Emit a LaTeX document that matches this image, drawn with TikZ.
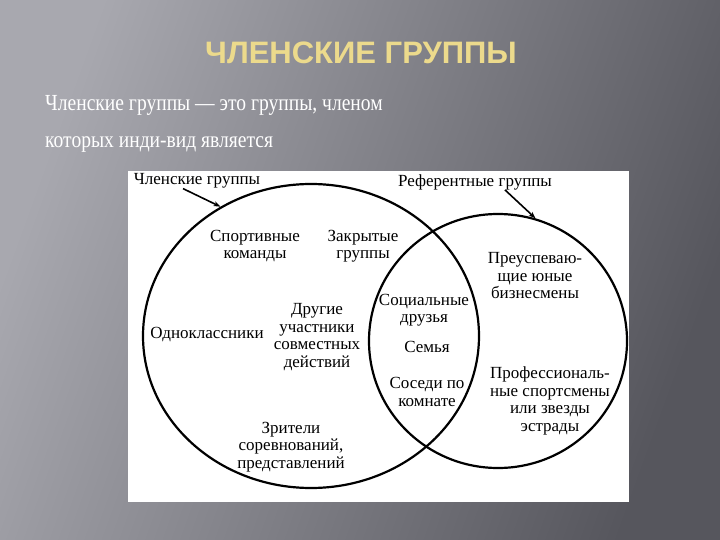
\documentclass[tikz,border=0pt]{standalone}
\usepackage{fontspec}
\setmainfont{Liberation Serif}
\newfontfamily\titlefont{Liberation Sans}
\newfontfamily\introfont[FakeStretch=0.85]{Liberation Serif}
\usetikzlibrary{shapes.geometric,arrows.meta}
\definecolor{bgleft}{RGB}{168,168,175}
\definecolor{bgright}{RGB}{86,86,93}
\definecolor{titlegold}{RGB}{236,218,140}
\tikzset{
  set/.style={draw,ellipse,line width=2.2pt,inner sep=0pt},
  lbl/.style={align=center,font=\fontsize{17}{17.5}\selectfont,inner sep=0pt},
  pointer/.style={line width=1.6pt,-{Stealth[length=7pt,width=5pt]}}
}

\begin{document}
\begin{tikzpicture}[x=1pt,y=-1pt]
  \useasboundingbox (0,0) rectangle (720,540);
  \shade[bottom color=bgleft,top color=bgright,shading angle=-110] (0,0) rectangle (720,540);
  \node[text=titlegold,font=\titlefont\bfseries\fontsize{31}{32}\selectfont] (title) at (361,53) {ЧЛЕНСКИЕ ГРУППЫ};
  \node[text=white,font=\introfont\fontsize{23}{37}\selectfont,align=left,anchor=north west,inner sep=0pt] (intro) at (45,95)
    {Членские группы — это группы, членом\\которых инди-вид является};
  \fill[white] (128,171) rectangle (629,502);
  \node[set,minimum width=336pt,minimum height=304pt] (memb) at (311,336) {};
  \node[set,minimum width=258pt,minimum height=254pt] (ref) at (498,341) {};
  \def \Labels{
    lblmemb/197/181/{Членские группы},
    lblref/475/182/{Референтные группы},
    sport/255/246/{Спортивные\\команды},
    closed/363/246/{Закрытые\\группы},
    other/317/337/{Другие\\участники\\совместных\\действий},
    mates/207/335/{Одноклассники},
    social/424/310/{Социальные\\друзья},
    family/427/347/{Семья},
    roommates/427/392/{Соседи по\\комнате},
    business/535/276/{Преуспеваю-\\щие юные\\бизнесмены},
    stars/550/401/{Профессиональ-\\ные спортсмены\\или звезды\\эстрады},
    audience/291/447/{Зрители\\соревнований,\\представлений}}
  \foreach \id / \x / \y / \txt in \Labels{
    \node[lbl] (\id) at (\x, \y) {\txt};
  }
  \draw[pointer] ([xshift=-14pt]lblmemb.south) -- (memb.125);
  \draw[pointer] ([xshift=30pt]lblref.south) -- (ref.73);
\end{tikzpicture}
\end{document}
